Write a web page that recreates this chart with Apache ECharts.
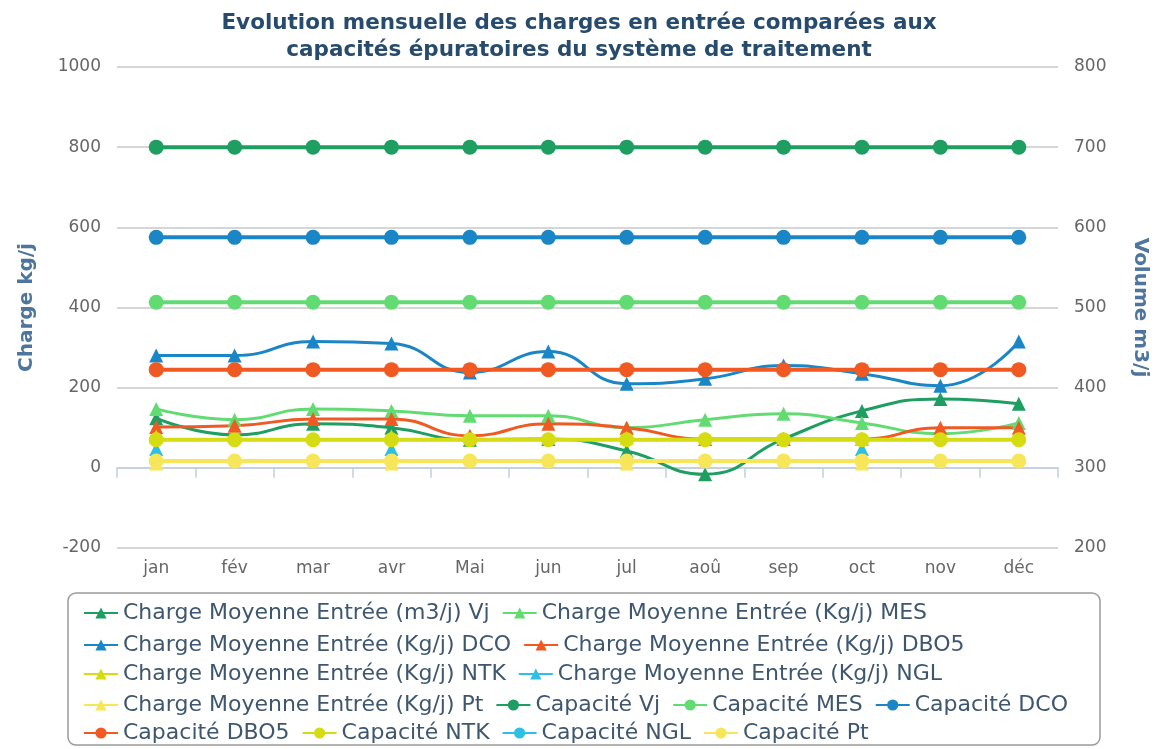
<!DOCTYPE html>
<html>
<head>
<meta charset="utf-8">
<script src="https://cdn.jsdelivr.net/npm/echarts@6/dist/echarts.min.js"></script>
<style>
  html, body { margin: 0; padding: 0; background: #fff; }
  #chart { width: 1158px; height: 749px; }
</style>
</head>
<body>
<div id="chart"></div>
<script>
const months = ['jan', 'fév', 'mar', 'avr', 'Mai', 'jun', 'jul', 'aoû', 'sep', 'oct', 'nov', 'déc']

// charges moyennes en entrée (Vj sur l'axe de droite, m3/j)
const chargeVj = [362, 341, 355, 350, 335, 336, 321, 292, 336, 371, 386, 380]
const chargeMES = [147, 120, 147, 142, 130, 130, 100, 120, 135, 112, 85, 112]
const chargeDCO = [280, 280, 315, 310, 238, 290, 210, 222, 255, 235, 205, 315]
const chargeDBO5 = [102, 105, 122, 122, 80, 110, 100, 72, 72, 72, 100, 100]
const chargeNTK = [78, null, null, 78, null, null, 75, null, null, 72, null, null]
const chargeNGL = [47, null, null, 47, null, null, null, null, null, 47, null, null]
const chargePt = [11, null, null, 11, null, null, 11, null, null, 11, null, null]

// capacités épuratoires
const capVj = [700, 700, 700, 700, 700, 700, 700, 700, 700, 700, 700, 700]
const capMES = [413, 413, 413, 413, 413, 413, 413, 413, 413, 413, 413, 413]
const capDCO = [575, 575, 575, 575, 575, 575, 575, 575, 575, 575, 575, 575]
const capDBO5 = [245, 245, 245, 245, 245, 245, 245, 245, 245, 245, 245, 245]
const capNTK = [70, 70, 70, 70, 70, 70, 70, 70, 70, 70, 70, 70]
const capNGL = [null, null, null, null, null, null, null, null, null, null, null, null]
const capPt = [17, 17, 17, 17, 17, 17, 17, 17, 17, 17, 17, 17]

const leftTicks = [-200, 1000, 200]
const rightTicks = [200, 800, 100]

const colors = {
  Vj: '#1f9e62', MES: '#62dc72', DCO: '#1b86c6', DBO5: '#f05a22',
  NTK: '#d6dc12', NGL: '#2cc0e4', Pt: '#f7e65a'
}

const font = 'DejaVu Sans'

function charge(name, key, data, axis) {
  return {
    name: name, type: 'line', data: data, yAxisIndex: axis || 0,
    smooth: true, symbol: 'triangle', symbolSize: 14,
    lineStyle: { width: 3, color: colors[key] },
    itemStyle: { color: colors[key] }
  }
}

function capa(name, key, data, axis) {
  return {
    name: name, type: 'line', data: data, yAxisIndex: axis || 0,
    symbol: 'circle', symbolSize: 15,
    lineStyle: { width: 4, color: colors[key] },
    itemStyle: { color: colors[key] }
  }
}

const legendRows = [
  ['Charge Moyenne Entrée (m3/j) Vj', 'Charge Moyenne Entrée (Kg/j) MES'],
  ['Charge Moyenne Entrée (Kg/j) DCO', 'Charge Moyenne Entrée (Kg/j) DBO5'],
  ['Charge Moyenne Entrée (Kg/j) NTK', 'Charge Moyenne Entrée (Kg/j) NGL'],
  ['Charge Moyenne Entrée (Kg/j) Pt', 'Capacité Vj', 'Capacité MES', 'Capacité DCO'],
  ['Capacité DBO5', 'Capacité NTK', 'Capacité NGL', 'Capacité Pt']
]
const legendTops = [597, 629, 658, 689, 717]

const chart = echarts.init(document.getElementById('chart'))

const option = {
  animation: false,
  title: {
    text: 'Evolution mensuelle des charges en entrée comparées aux\ncapacités épuratoires du système de traitement',
    left: 'center', top: 5,
    textStyle: { fontFamily: font, fontSize: 21.5, fontWeight: 'bold', color: '#274b6d', lineHeight: 27 }
  },
  legend: legendRows.map(function (row, i) {
    return {
      data: row, left: 78, top: legendTops[i], itemWidth: 34, itemHeight: 14, itemGap: 12,
      textStyle: { fontFamily: font, fontSize: 22, color: '#3e576f' }
    }
  }),
  graphic: [{
    type: 'rect', shape: { x: 68, y: 593, width: 1032, height: 152, r: 8 },
    style: { fill: 'none', stroke: '#9a9a9a', lineWidth: 1.5 }
  }],
  grid: { left: 117, right: 100, top: 67, bottom: 201 },
  xAxis: {
    type: 'category', data: months, boundaryGap: true,
    axisLine: { lineStyle: { color: '#c0d0e0', width: 1.5 } },
    axisTick: { show: true, length: 10, lineStyle: { color: '#c0d0e0', width: 1.5 } },
    axisLabel: { fontFamily: font, fontSize: 17, color: '#666', margin: 12 }
  },
  yAxis: [{
    type: 'value', min: leftTicks[0], max: leftTicks[1], interval: leftTicks[2],
    name: 'Charge kg/j', nameLocation: 'middle', nameGap: 80,
    nameTextStyle: { fontFamily: font, fontSize: 20, fontWeight: 'bold', color: '#4d759e' },
    axisLine: { show: false }, axisTick: { show: false },
    axisLabel: { fontFamily: font, fontSize: 17, color: '#666', margin: 16, formatter: function (v) { return String(v) } },
    splitLine: { lineStyle: { color: '#c8c8c8', width: 1.5 } }
  }, {
    type: 'value', min: rightTicks[0], max: rightTicks[1], interval: rightTicks[2],
    name: 'Volume m3/j', nameLocation: 'middle', nameGap: 72, nameRotate: -90,
    nameTextStyle: { fontFamily: font, fontSize: 20, fontWeight: 'bold', color: '#4d759e' },
    axisLine: { show: false }, axisTick: { show: false },
    axisLabel: { fontFamily: font, fontSize: 17, color: '#666', margin: 16, formatter: function (v) { return String(v) } },
    splitLine: { show: false }
  }],
  series: [
    charge('Charge Moyenne Entrée (m3/j) Vj', 'Vj', chargeVj, 1),
    charge('Charge Moyenne Entrée (Kg/j) MES', 'MES', chargeMES),
    charge('Charge Moyenne Entrée (Kg/j) DCO', 'DCO', chargeDCO),
    charge('Charge Moyenne Entrée (Kg/j) DBO5', 'DBO5', chargeDBO5),
    charge('Charge Moyenne Entrée (Kg/j) NTK', 'NTK', chargeNTK),
    charge('Charge Moyenne Entrée (Kg/j) NGL', 'NGL', chargeNGL),
    charge('Charge Moyenne Entrée (Kg/j) Pt', 'Pt', chargePt),
    capa('Capacité Vj', 'Vj', capVj, 1),
    capa('Capacité MES', 'MES', capMES),
    capa('Capacité DCO', 'DCO', capDCO),
    capa('Capacité DBO5', 'DBO5', capDBO5),
    capa('Capacité NTK', 'NTK', capNTK),
    capa('Capacité NGL', 'NGL', capNGL),
    capa('Capacité Pt', 'Pt', capPt)
  ]
}

chart.setOption(option)
</script>
</body>
</html>
